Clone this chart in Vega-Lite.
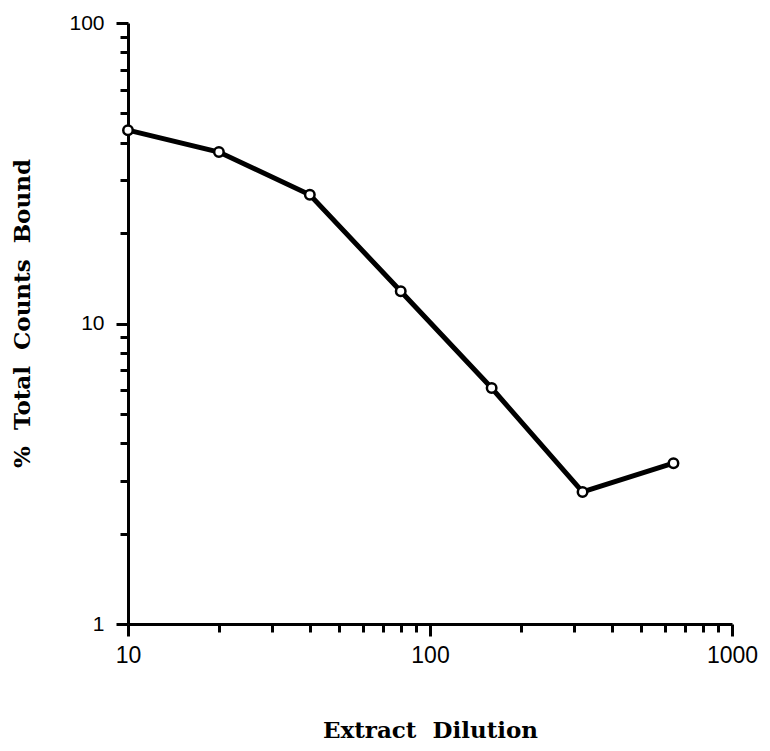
{
  "$schema": "https://vega.github.io/schema/vega-lite/v6.json",
  "autosize": "none",
  "width": 604,
  "height": 601,
  "padding": {"left": 128, "top": 23, "right": 38, "bottom": 127},
  "background": "white",
  "config": {"view": {"stroke": null}},
  "data": {
    "values": [
      {"dilution": 10, "bound": 44.0},
      {"dilution": 20, "bound": 37.2},
      {"dilution": 40, "bound": 26.8},
      {"dilution": 80, "bound": 12.8},
      {"dilution": 160, "bound": 6.1},
      {"dilution": 320, "bound": 2.75},
      {"dilution": 640, "bound": 3.43}
    ]
  },
  "encoding": {
    "x": {
      "field": "dilution", "type": "quantitative",
      "scale": {"type": "log", "domain": [10, 1000], "nice": false},
      "axis": {
        "title": "Extract\u00a0\u00a0Dilution",
        "titleFont": "DejaVu Serif", "titleFontWeight": "bold", "titleFontSize": 23,
        "titlePadding": 52, "titleColor": "black",
        "values": [10,20,30,40,50,60,70,80,90,100,200,300,400,500,600,700,800,900,1000],
        "labelExpr": "datum.value == 10 || datum.value == 100 || datum.value == 1000 ? datum.label : ''",
        "format": "d",
        "labelFont": "Liberation Sans", "labelFontSize": 23, "labelColor": "black",
        "labelPadding": 8, "labelFlush": false, "labelOverlap": false,
        "domainColor": "black", "domainWidth": 3,
        "tickColor": "black", "tickWidth": 3,
        "tickSize": {"condition": {"test": "datum.value == 10 || datum.value == 100 || datum.value == 1000", "value": 12}, "value": 8},
        "grid": false
      }
    },
    "y": {
      "field": "bound", "type": "quantitative",
      "scale": {"type": "log", "domain": [1, 100], "nice": false},
      "axis": {
        "title": "%\u00a0\u00a0Total\u00a0\u00a0Counts\u00a0\u00a0Bound",
        "titleFont": "DejaVu Serif", "titleFontWeight": "bold", "titleFontSize": 23,
        "titlePadding": 34, "titleColor": "black", "titleY": 290,
        "values": [1,2,3,4,5,6,7,8,9,10,20,30,40,50,60,70,80,90,100],
        "labelExpr": "datum.value == 1 || datum.value == 10 || datum.value == 100 ? datum.label : ''",
        "format": "d",
        "labelFont": "Liberation Sans", "labelFontSize": 21, "labelColor": "black",
        "labelPadding": 12, "labelOverlap": false,
        "domainColor": "black", "domainWidth": 3,
        "tickColor": "black", "tickWidth": 3,
        "tickSize": {"condition": {"test": "datum.value == 1 || datum.value == 10 || datum.value == 100", "value": 12}, "value": 8},
        "grid": false
      }
    }
  },
  "layer": [
    {"mark": {"type": "line", "color": "black", "strokeWidth": 5}},
    {"mark": {"type": "point", "filled": true, "fill": "white", "stroke": "black", "strokeWidth": 2.5, "size": 90, "opacity": 1}}
  ]
}
